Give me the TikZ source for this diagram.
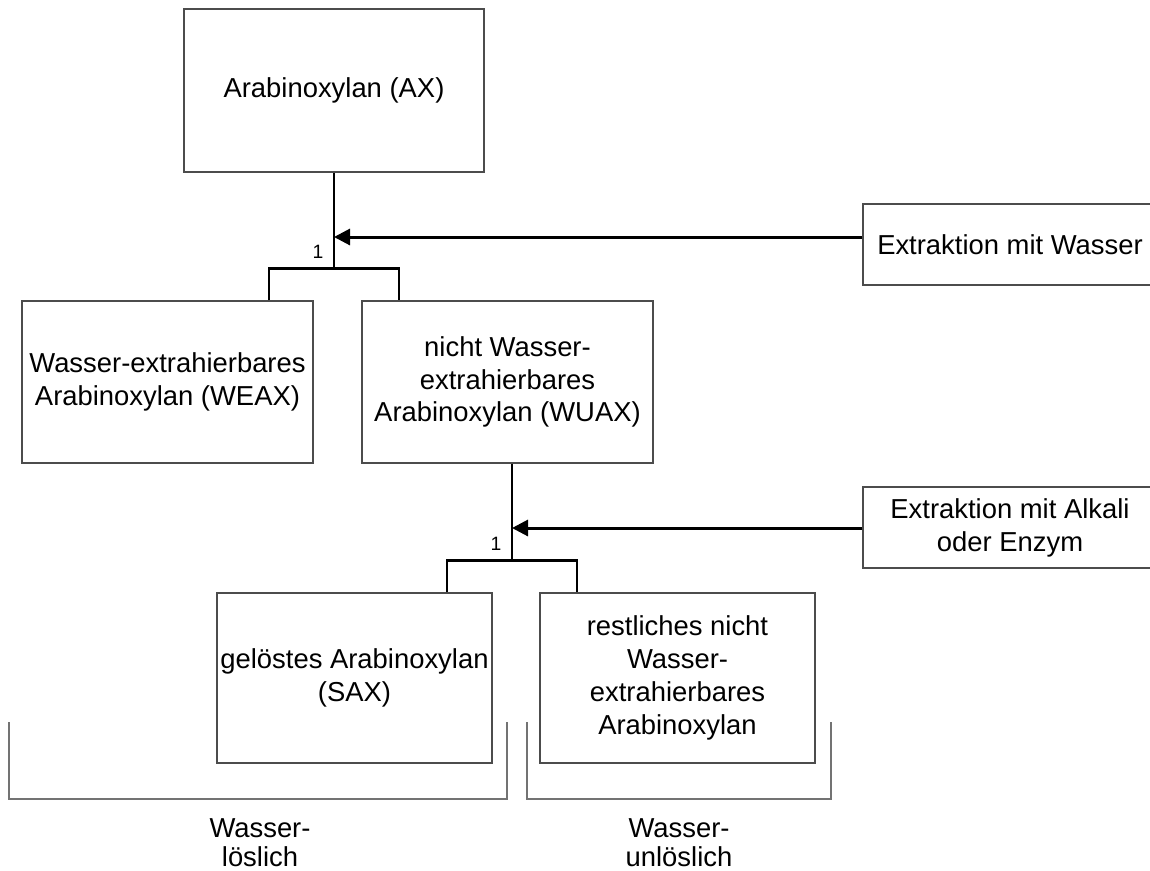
\documentclass[tikz,border=0pt]{standalone}
\usepackage{fontspec}
\setmainfont{Liberation Sans}
\usetikzlibrary{arrows.meta}
\begin{document}
\begin{tikzpicture}[x=0.02cm, y=-0.02cm,
  font=\fontsize{15.6pt}{18.7pt}\selectfont,
  box/.style={draw=black!70, line width=0.6pt, align=center, inner sep=0pt},
  link/.style={line width=1.7pt, black},
  arr/.style={link, -{Triangle[length=0.32cm, width=0.32cm]}},
  brk/.style={draw=black!55, line width=0.6pt},
  num/.style={font=\fontsize{11pt}{12pt}\selectfont},
  group/.style={align=center, anchor=base, font=\fontsize{15.6pt}{16.5pt}\selectfont}]
  \useasboundingbox (0,0) rectangle (1150,870);
  % level 0
  \node[box, minimum width=300*0.02cm, minimum height=163*0.02cm] (ax) at (334,90.5) {Arabinoxylan (AX)};
  \node[box, minimum width=294*0.02cm, minimum height=81*0.02cm] (wasser) at (1010,244.5) {Extraktion mit Wasser};
  % level 1
  \node[box, minimum width=291*0.02cm, minimum height=162*0.02cm] (weax) at (167.5,382) {Wasser-extrahierbares\\Arabinoxylan (WEAX)};
  \node[box, minimum width=291*0.02cm, minimum height=162*0.02cm] (wuax) at (507.5,382) {nicht Wasser-\\extrahierbares\\Arabinoxylan (WUAX)};
  \node[box, minimum width=294*0.02cm, minimum height=81*0.02cm] (alkali) at (1010,527.5) {Extraktion mit Alkali\\oder Enzym};
  % level 2
  \node[box, minimum width=275*0.02cm, minimum height=170*0.02cm] (sax) at (354.5,678) {gelöstes Arabinoxylan\\(SAX)};
  \node[box, minimum width=275*0.02cm, minimum height=170*0.02cm] (rest) at (677.5,678) {restliches nicht\\Wasser-\\extrahierbares\\Arabinoxylan};
  % split 1
  \coordinate (j1) at (334,268);
  \coordinate (j1l) at (269,268);
  \coordinate (j1r) at (399,268);
  \coordinate (t1) at (334,237);
  \draw[link] (ax.south -| j1) -- (j1);
  \draw[link] (weax.north -| j1l) -- (j1l) -- (j1r) -- (wuax.north -| j1r);
  \draw[arr] (wasser.west |- t1) -- (t1);
  \node[num] (n1) at (318,252) {1};
  % split 2
  \coordinate (j2) at (512,560);
  \coordinate (j2l) at (447,560);
  \coordinate (j2r) at (577,560);
  \coordinate (t2) at (512,528);
  \draw[link] (wuax.south -| j2) -- (j2);
  \draw[link] (sax.north -| j2l) -- (j2l) -- (j2r) -- (rest.north -| j2r);
  \draw[arr] (alkali.west |- t2) -- (t2);
  \node[num] (n2) at (496,544) {1};
  % groups
  \draw[brk] (9,722) |- (507,799) -- (507,722);
  \draw[brk] (527,722) |- (831,799) -- (831,722);
  \node[group] (los) at (260,866) {Wasser-\\löslich};
  \node[group] (unlos) at (679,866) {Wasser-\\unlöslich};
\end{tikzpicture}
\end{document}
